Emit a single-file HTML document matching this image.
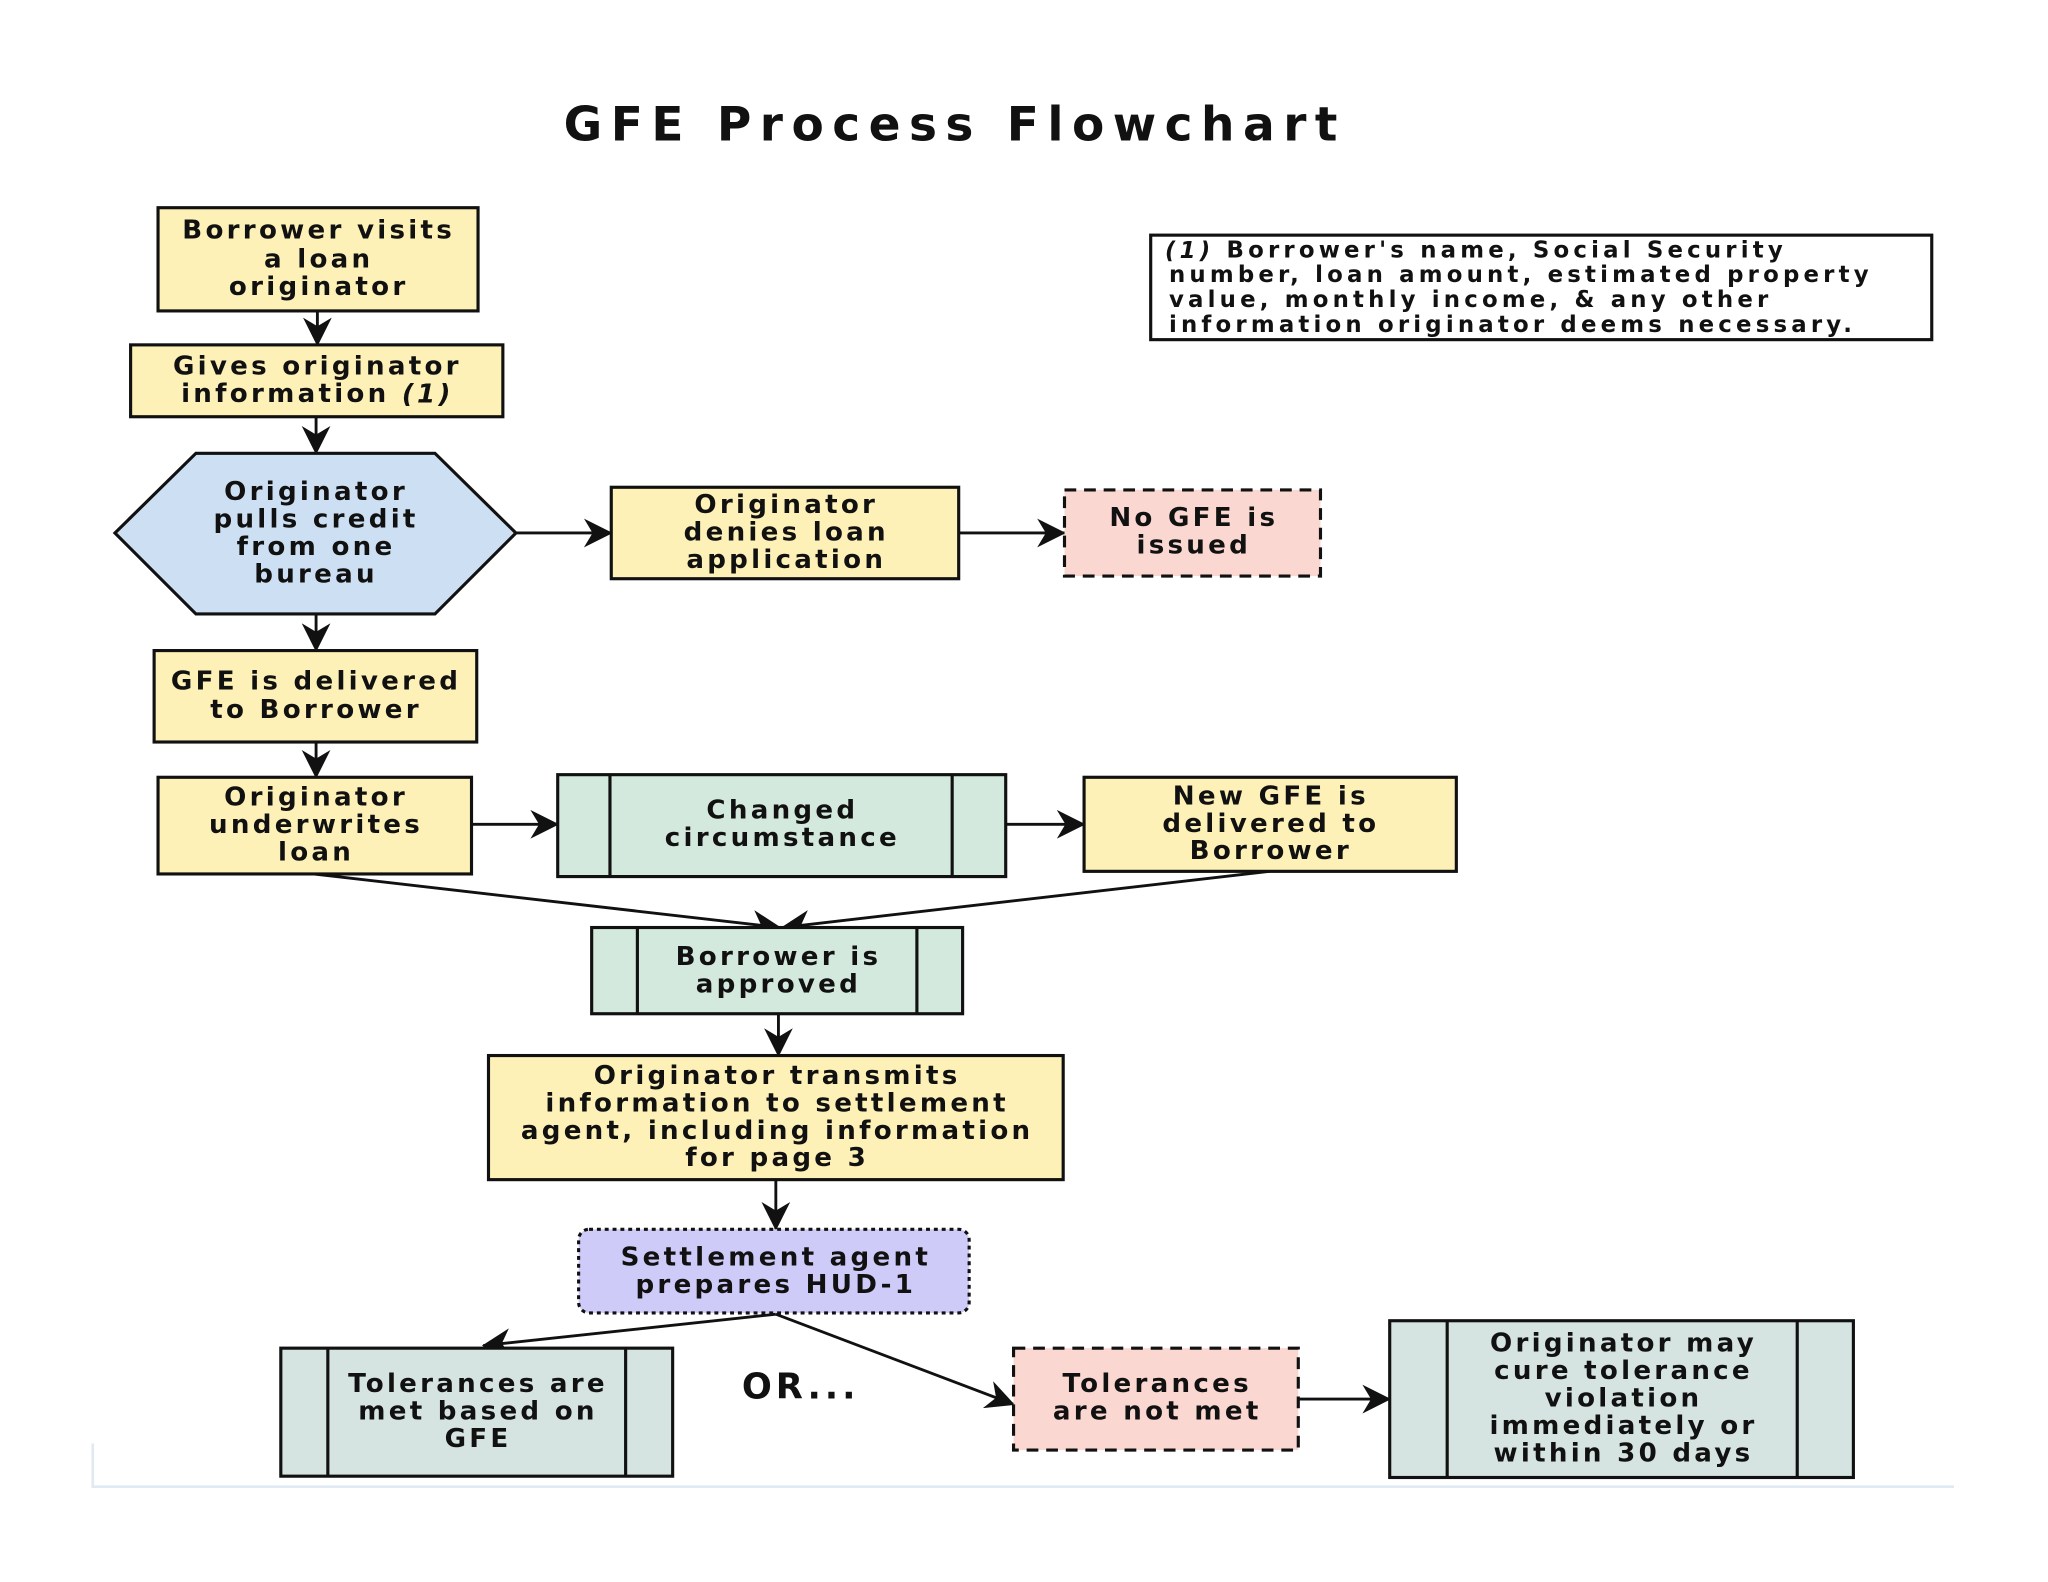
<!DOCTYPE html>
<html><head><meta charset="utf-8"><style>
html,body{margin:0;padding:0;background:#fff;width:2048px;height:1582px;overflow:hidden}
svg{display:block}
text{font-family:"DejaVu Sans","Liberation Sans",sans-serif;font-weight:bold;fill:#111;text-anchor:middle;dominant-baseline:middle}
.t{font-size:20px;letter-spacing:2.5px}
.n{font-size:17.5px;letter-spacing:3.2px;text-anchor:start}
.b{stroke:#111;stroke-width:2.4}
.l{stroke:#111;stroke-width:2.2;fill:none}
</style></head><body>
<svg width="2048" height="1582" viewBox="0 0 1568 1211" preserveAspectRatio="none">
<defs><marker id="a" viewBox="0 0 20 20" refX="19" refY="10" markerWidth="22" markerHeight="22" markerUnits="userSpaceOnUse" orient="auto"><path d="M0,0 L20,10 L0,20 L6,10 Z" fill="#111"/></marker></defs>
<rect width="1568" height="1211" fill="#fff"/>
<path d="M71,1105 V1138 H1496" stroke="#dfeaf2" stroke-width="2" fill="none"/>
<text x="731" y="98" style="font-size:36px;letter-spacing:6.5px">GFE Process Flowchart</text>

<rect x="881" y="180" width="598" height="80" fill="#fff" class="b"/>
<text class="n" x="892" y="192"><tspan font-style="italic">(1)</tspan> Borrower's name, Social Security</text>
<text class="n" x="895" y="211">number, loan amount, estimated property</text>
<text class="n" x="895" y="230">value, monthly income, &amp; any other</text>
<text class="n" x="895" y="249">information originator deems necessary.</text>

<line x1="243" y1="238" x2="243" y2="264" class="l" marker-end="url(#a)"/>
<line x1="242" y1="319" x2="242" y2="347" class="l" marker-end="url(#a)"/>
<line x1="395" y1="408" x2="468" y2="408" class="l" marker-end="url(#a)"/>
<line x1="734" y1="408" x2="815" y2="408" class="l" marker-end="url(#a)"/>
<line x1="242" y1="470" x2="242" y2="498" class="l" marker-end="url(#a)"/>
<line x1="242" y1="568" x2="242" y2="595" class="l" marker-end="url(#a)"/>
<line x1="361" y1="631" x2="427" y2="631" class="l" marker-end="url(#a)"/>
<line x1="770" y1="631" x2="830" y2="631" class="l" marker-end="url(#a)"/>
<line x1="240" y1="669" x2="597" y2="710" class="l" marker-end="url(#a)"/>
<line x1="972" y1="667" x2="599" y2="710" class="l" marker-end="url(#a)"/>
<line x1="596" y1="776" x2="596" y2="808" class="l" marker-end="url(#a)"/>
<line x1="594" y1="903" x2="594" y2="941" class="l" marker-end="url(#a)"/>
<line x1="594" y1="1006" x2="370" y2="1030" class="l" marker-end="url(#a)"/>
<line x1="594" y1="1006" x2="776" y2="1075" class="l" marker-end="url(#a)"/>
<line x1="994" y1="1071" x2="1064" y2="1071" class="l" marker-end="url(#a)"/>

<rect x="121" y="159" width="245" height="79" fill="#fdf1b8" class="b"/>
<text class="t" x="244" y="177">Borrower visits</text><text class="t" x="244" y="199">a loan</text><text class="t" x="244" y="220">originator</text>

<rect x="100" y="264" width="285" height="55" fill="#fdf1b8" class="b"/>
<text class="t" x="243" y="281">Gives originator</text><text class="t" x="243" y="302">information <tspan font-style="italic">(1)</tspan></text>

<polygon points="88,408 150,347 333,347 395,408 333,470 150,470" fill="#cde0f3" class="b"/>
<text class="t" x="242" y="377">Originator</text><text class="t" x="242" y="398">pulls credit</text><text class="t" x="242" y="419">from one</text><text class="t" x="242" y="440">bureau</text>

<rect x="468" y="373" width="266" height="70" fill="#fdf1b8" class="b"/>
<text class="t" x="602" y="387">Originator</text><text class="t" x="602" y="408">denies loan</text><text class="t" x="602" y="429">application</text>

<rect x="815" y="375" width="196" height="66" fill="#fad7d0" class="b" stroke-dasharray="9,6"/>
<text class="t" x="914" y="397">No GFE is</text><text class="t" x="914" y="418">issued</text>

<rect x="118" y="498" width="247" height="70" fill="#fdf1b8" class="b"/>
<text class="t" x="242" y="522">GFE is delivered</text><text class="t" x="242" y="544">to Borrower</text>

<rect x="121" y="595" width="240" height="74" fill="#fdf1b8" class="b"/>
<text class="t" x="242" y="611">Originator</text><text class="t" x="242" y="632">underwrites</text><text class="t" x="242" y="653">loan</text>

<rect x="427" y="593" width="343" height="78" fill="#d4e9dd" class="b"/>
<line x1="467" y1="593" x2="467" y2="671" class="b"/><line x1="729" y1="593" x2="729" y2="671" class="b"/>
<text class="t" x="599" y="621">Changed</text><text class="t" x="599" y="642">circumstance</text>

<rect x="830" y="595" width="285" height="72" fill="#fdf1b8" class="b"/>
<text class="t" x="973" y="610">New GFE is</text><text class="t" x="973" y="631">delivered to</text><text class="t" x="973" y="652">Borrower</text>

<rect x="453" y="710" width="284" height="66" fill="#d4e9dd" class="b"/>
<line x1="488" y1="710" x2="488" y2="776" class="b"/><line x1="702" y1="710" x2="702" y2="776" class="b"/>
<text class="t" x="596" y="733">Borrower is</text><text class="t" x="596" y="754">approved</text>

<rect x="374" y="808" width="440" height="95" fill="#fdf1b8" class="b"/>
<text class="t" x="595" y="824">Originator transmits</text><text class="t" x="595" y="845">information to settlement</text><text class="t" x="595" y="866">agent, including information</text><text class="t" x="595" y="887">for page 3</text>

<rect x="443" y="941" width="299" height="64" rx="8" fill="#cfcbf9" class="b" stroke-dasharray="3,3"/>
<text class="t" x="594" y="963">Settlement agent</text><text class="t" x="594" y="984">prepares HUD-1</text>

<rect x="215" y="1032" width="300" height="98" fill="#d5e3e1" class="b"/>
<line x1="251" y1="1032" x2="251" y2="1130" class="b"/><line x1="479" y1="1032" x2="479" y2="1130" class="b"/>
<text class="t" x="366" y="1060">Tolerances are</text><text class="t" x="366" y="1081">met based on</text><text class="t" x="366" y="1102">GFE</text>

<text x="613" y="1063" style="font-size:27px;letter-spacing:3px">OR...</text>

<rect x="776" y="1032" width="218" height="78" fill="#fad7d0" class="b" stroke-dasharray="9,6"/>
<text class="t" x="886" y="1060">Tolerances</text><text class="t" x="886" y="1081">are not met</text>

<rect x="1064" y="1011" width="355" height="120" fill="#d5e3e1" class="b"/>
<line x1="1108" y1="1011" x2="1108" y2="1131" class="b"/><line x1="1376" y1="1011" x2="1376" y2="1131" class="b"/>
<text class="t" x="1243" y="1029">Originator may</text><text class="t" x="1243" y="1050">cure tolerance</text><text class="t" x="1243" y="1071">violation</text><text class="t" x="1243" y="1092">immediately or</text><text class="t" x="1243" y="1113">within 30 days</text>
</svg>
</body></html>
